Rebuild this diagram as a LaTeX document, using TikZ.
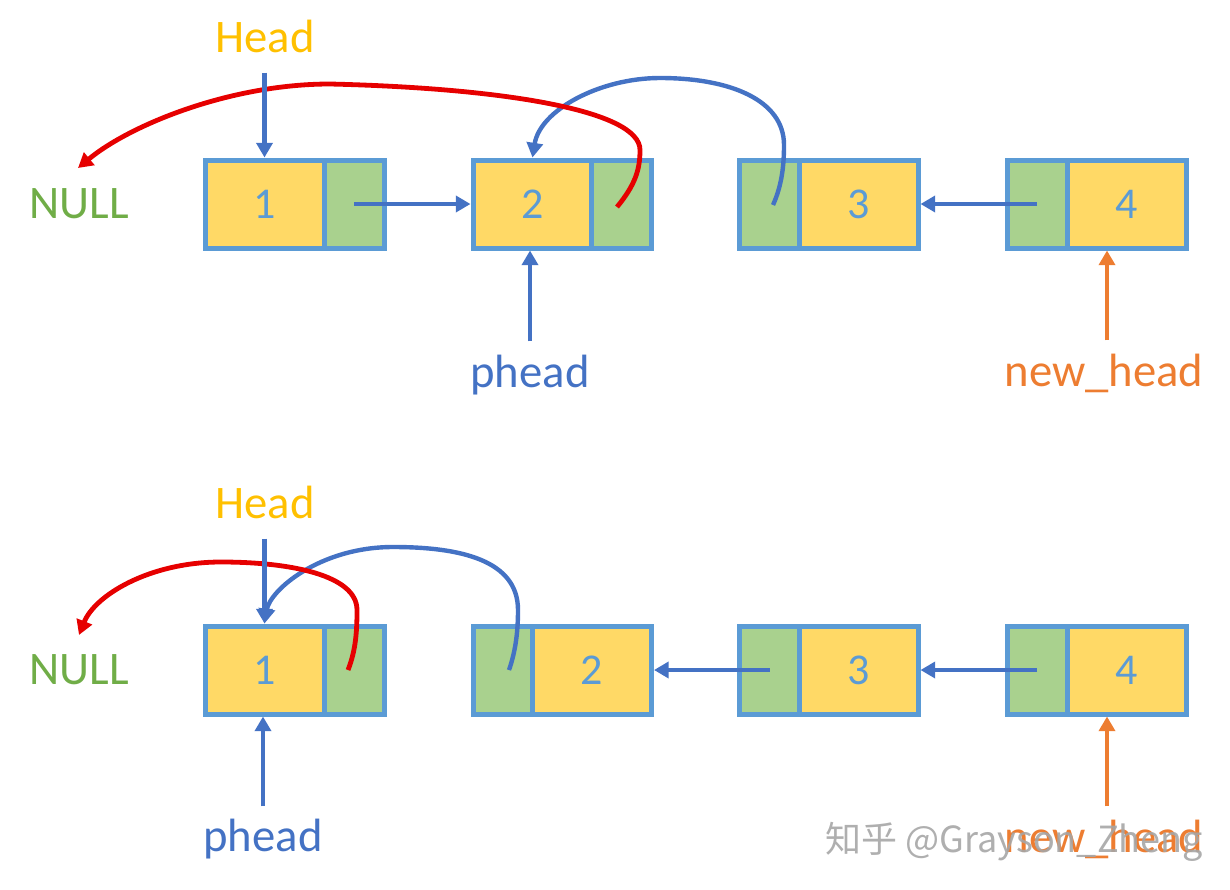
\documentclass[tikz,border=0pt]{standalone}
\usepackage{fontspec}
\setmainfont{Carlito}
\newfontfamily\cjkfont{Noto Sans CJK SC}
\usetikzlibrary{arrows.meta,calc}
\definecolor{bordc}{HTML}{5B9BD5}
\definecolor{numc}{HTML}{5B9BD5}
\definecolor{yfill}{HTML}{FFD966}
\definecolor{gfill}{HTML}{A9D18E}
\definecolor{arrc}{HTML}{4472C4}
\definecolor{redc}{HTML}{E60000}
\definecolor{orangec}{HTML}{ED7D31}
\definecolor{nullc}{HTML}{70AD47}
\definecolor{headc}{HTML}{FFC000}
\definecolor{wmc}{HTML}{A6A6A6}
\tikzset{
  valbox/.style={draw=bordc, line width=3.75pt, fill=yfill, minimum width=89.25pt,
    minimum height=66pt, inner sep=0pt, text=numc, font=\fontsize{33}{36}\selectfont},
  ptrbox/.style={draw=bordc, line width=3.75pt, fill=gfill, minimum width=45pt,
    minimum height=66pt, inner sep=0pt},
  lab/.style={inner sep=0pt, anchor=base, font=\fontsize{35}{40}\selectfont},
  tip/.style={-{Triangle[length=11pt,width=12pt]}},
  ptr/.style={draw=arrc, line width=3.3pt, tip},
  ptrred/.style={draw=redc, line width=3.6pt, tip},
  ptrorange/.style={draw=orangec, line width=3.3pt, tip},
}
\begin{document}
\begin{tikzpicture}[x=0.75pt,y=-0.75pt]
\useasboundingbox (0,0) rectangle (1230,889);
% ---------- Row 1 ----------
\node[valbox] (a1v) at (264.5,204) {1};
\node[ptrbox] (a1p) at (354,204) {};
\node[valbox] (a2v) at (532.5,204) {2};
\node[ptrbox] (a2p) at (621.5,204) {};
\node[ptrbox] (a3p) at (769.5,204) {};
\node[valbox] (a3v) at (858.5,204) {3};
\node[ptrbox] (a4p) at (1037,204) {};
\node[valbox] (a4v) at (1126.5,204) {4};
\node[lab, text=headc] (head1) at (265,52) {Head};
\node[lab, text=nullc] (null1) at (79,218) {NULL};
\node[lab, text=arrc] (phead1) at (530,387) {phead};
\node[lab, text=orangec] (nh1) at (1104,386) {new\_head};
% ---------- Row 2 ----------
\node[valbox] (b1v) at (264.5,670) {1};
\node[ptrbox] (b1p) at (354,670) {};
\node[ptrbox] (b2p) at (503,670) {};
\node[valbox] (b2v) at (592,670) {2};
\node[ptrbox] (b3p) at (769.5,670) {};
\node[valbox] (b3v) at (858.5,670) {3};
\node[ptrbox] (b4p) at (1037,670) {};
\node[valbox] (b4v) at (1126.5,670) {4};
\node[lab, text=headc] (head2) at (265,518) {Head};
\node[lab, text=nullc] (null2) at (79,684) {NULL};
\node[lab, text=arrc] (phead2) at (263,851) {phead};
\node[lab, text=orangec] (nh2) at (1104,852) {new\_head};
% ---------- coordinates for curve ends ----------
\coordinate (r1s) at (617,207);
\coordinate (r1e) at (78,168);
\coordinate (u1s) at (773,205);
\coordinate (r2s) at (348,670);
\coordinate (r2e) at (79,635);
\coordinate (u2s) at (509,670);
% ---------- straight pointers ----------
\draw[ptr] (a1p.center) -- (a2v.west);
\draw[ptr] (a4p.center) -- (a3v.east);
\draw[ptr] (b3p.center) -- (b2v.east);
\draw[ptr] (b4p.center) -- (b3v.east);
% ---------- curved pointers ----------
\draw[ptr] (u1s) .. controls (782,185) and (784,165) .. (784,145)
  .. controls (784,100) and (730,78) .. (660,78)
  .. controls (600,78) and (540,110) .. (a2v.north);
\draw[ptrred] (r1s) .. controls (635,185) and (640,170) .. (640,150)
  .. controls (640,110) and (500,88) .. (330,84)
  .. controls (230,84) and (130,125) .. (r1e);
\draw[ptr] (u2s) .. controls (516,650) and (518,630) .. (518,610)
  .. controls (518,560) and (460,547) .. (393,547)
  .. controls (320,547) and (270,590) .. (b1v.north);
\draw[ptrred] (r2s) .. controls (356,650) and (357,630) .. (357,610)
  .. controls (357,575) and (290,562) .. (221,562)
  .. controls (150,562) and (95,595) .. (r2e);
% ---------- label pointers ----------
\draw[ptr, shorten <=15pt] (a1v.north |- head1.south) -- (a1v.north);
\draw[ptr, shorten <=9.75pt] (phead1.north) -- (phead1.north |- a2v.south);
\draw[ptrorange, shorten <=9.75pt] ([xshift=2.25pt]nh1.north) -- ([xshift=2.25pt]nh1.north |- a4v.south);
\draw[ptr, shorten <=15pt] (b1v.north |- head2.south) -- (b1v.north);
\draw[ptr, shorten <=9pt] (phead2.north) -- (phead2.north |- b1v.south);
\draw[ptrorange, shorten <=9.75pt] ([xshift=2.25pt]nh2.north) -- ([xshift=2.25pt]nh2.north |- b4v.south);
% ---------- watermark ----------
\node[inner sep=0pt, anchor=base west, text=wmc, opacity=0.9,
  font=\cjkfont\fontsize{27}{30}\selectfont] (wm) at (825,852) {知乎 @Grayson\_Zheng};
\end{tikzpicture}
\end{document}
